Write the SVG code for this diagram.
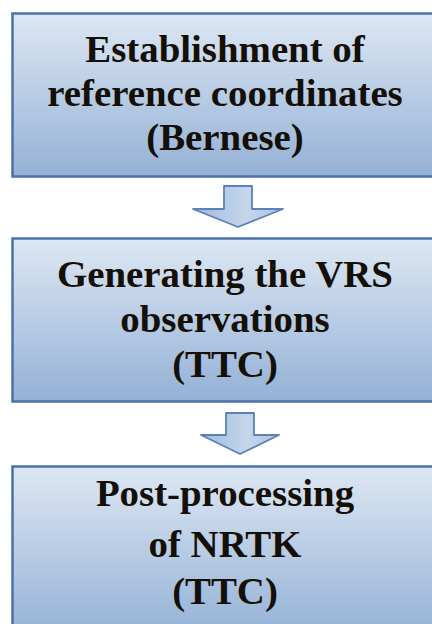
<svg xmlns="http://www.w3.org/2000/svg" width="432" height="624" viewBox="0 0 432 624">
<defs>
<linearGradient id="boxg" x1="0" y1="0" x2="0" y2="1">
<stop offset="0" stop-color="#dde7f3"/>
<stop offset="1" stop-color="#94b1d6"/>
</linearGradient>
<linearGradient id="arrg" x1="0" y1="0" x2="1" y2="0">
<stop offset="0" stop-color="#9fb9dc"/>
<stop offset="0.6" stop-color="#c6d6ec"/>
<stop offset="1" stop-color="#a9c0df"/>
</linearGradient>
<style>
.box{fill:url(#boxg);stroke:#4a72a8;stroke-width:2.5}
.arr{fill:url(#arrg);stroke:#5a82b8;stroke-width:1.8;stroke-linejoin:round}
.t{font-family:"Liberation Serif","Times New Roman",serif;font-weight:bold;font-size:37px;fill:#141008;text-anchor:middle}
</style>
</defs>
<g id="connectors">
<path class="arr" d="M224,186 H252 V209 H283 L238,227 L193,209 H224 Z"/>
<path class="arr" d="M226,413 H254 V435 H279 L240,454 L201,435 H226 Z"/>
</g>
<g id="node1">
<rect class="box" x="12.5" y="13.5" width="430" height="163"/>
<g transform="matrix(1.05 0 0 1 -11.25 0)">
<text class="t" x="225" y="62">Establishment of</text>
<text class="t" x="225" y="106">reference coordinates</text>
<text class="t" x="225" y="150">(Bernese)</text>
</g>
</g>
<g id="node2">
<rect class="box" x="12.5" y="238.5" width="430" height="163"/>
<g transform="matrix(1.05 0 0 1 -11.25 0)">
<text class="t" x="225" y="287">Generating the VRS</text>
<text class="t" x="225" y="332">observations</text>
<text class="t" x="225" y="377">(TTC)</text>
</g>
</g>
<g id="node3">
<rect class="box" x="12.5" y="466.5" width="430" height="170"/>
<g transform="matrix(1.05 0 0 1 -11.25 0)">
<text class="t" x="225" y="506">Post-processing</text>
<text class="t" x="225" y="557">of NRTK</text>
<text class="t" x="225" y="604">(TTC)</text>
</g>
</g>
</svg>
